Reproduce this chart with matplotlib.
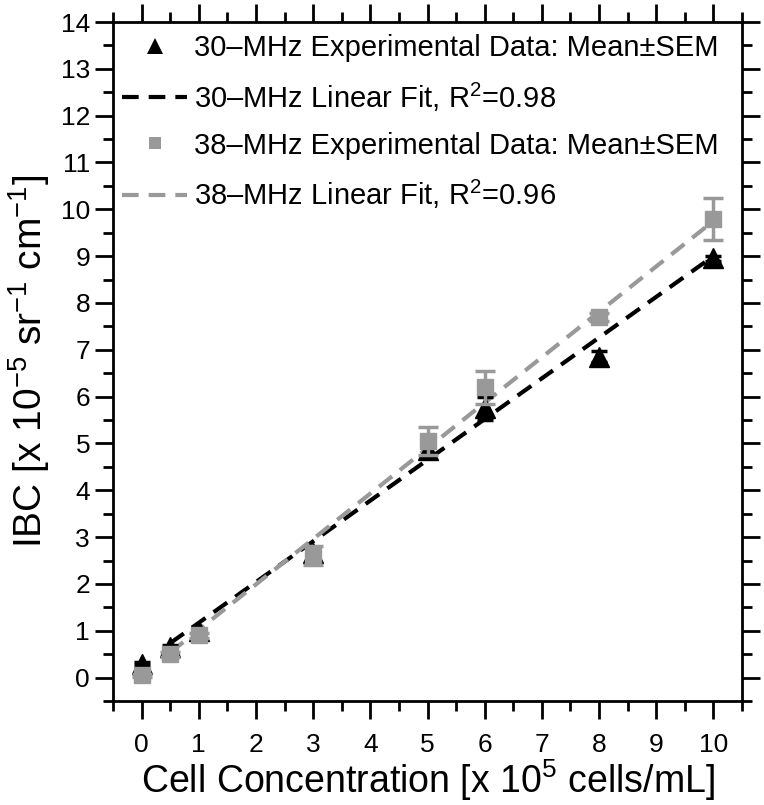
"""
IBC vs cell concentration at 30 and 38 MHz
"""

import numpy as np
from matplotlib import pyplot as plt
from matplotlib.lines import Line2D

# concentration [x 1e5 cells/mL]
conc = [0, 0.5, 1, 3, 5, 6, 8, 10]

# 30 MHz means and SEM
ibc_30 = [0.30, 0.65, 1.00, 2.65, 4.85, 5.75, 6.85, 8.95]
sem_30 = [0.03, 0.04, 0.04, 0.08, 0.15, 0.25, 0.12, 0.05]

# 38 MHz means and SEM
ibc_38 = [0.05, 0.50, 0.90, 2.60, 5.05, 6.20, 7.70, 9.80]
sem_38 = [0.03, 0.05, 0.05, 0.20, 0.30, 0.35, 0.08, 0.45]

# linear fits (slope, intercept) and range of the fitted line
fit_30 = (0.87, 0.30)
fit_38 = (0.97, 0.05)
fit_range = [0.5, 10]

labels = ['30–MHz Experimental Data: Mean±SEM',
          r'30–MHz Linear Fit, R$^{\mathregular{2}}$=0.98',
          '38–MHz Experimental Data: Mean±SEM',
          r'38–MHz Linear Fit, R$^{\mathregular{2}}$=0.96']

if __name__ == '__main__':
    grey = '#999999'
    plt.rcParams['font.family'] = ['Liberation Sans', 'DejaVu Sans']
    plt.rcParams['mathtext.fontset'] = 'custom'
    plt.rcParams['mathtext.rm'] = 'Liberation Sans'
    plt.rcParams['mathtext.it'] = 'Liberation Sans'
    plt.rcParams['mathtext.default'] = 'regular'

    fig = plt.figure(figsize=(7.64, 8.05), dpi=100)
    ax = fig.add_axes([113 / 764, 1 - 701 / 805, 629 / 764, 679 / 805])

    xf = np.array(fit_range)
    dashes = (4, 2.4)
    ax.plot(xf, fit_30[0] * xf + fit_30[1], color='k', lw=3, dashes=dashes, zorder=3)
    ax.plot(xf, fit_38[0] * xf + fit_38[1], color=grey, lw=3, dashes=dashes, zorder=3)

    ax.errorbar(conc, ibc_30, yerr=sem_30, fmt='^', color='k', ms=15, mec='k',
                elinewidth=2.5, capsize=6, capthick=2.5, zorder=4)
    ax.errorbar(conc, ibc_38, yerr=sem_38, fmt='s', color=grey, ms=11, mec=grey,
                elinewidth=2.5, capsize=7, capthick=2.5, zorder=5)

    ax.set_xlim(-0.5, 10.5)
    ax.set_ylim(-0.5, 14)
    ax.set_xticks(range(0, 11))
    ax.set_xticks(np.arange(-0.5, 10.6, 0.5), minor=True)
    ax.set_yticks(range(0, 15))
    ax.set_yticks(np.arange(-0.5, 14.1, 0.5), minor=True)
    ax.tick_params(which='both', direction='out', width=2, top=True, right=True,
                   labelsize=19)
    ax.tick_params(which='major', length=13)
    ax.tick_params(which='minor', length=7)
    ax.tick_params(axis='x', pad=10)
    for sp in ax.spines.values():
        sp.set_linewidth(2)

    ax.set_xlabel(r'Cell Concentration [x 10$^{5}$ cells/mL]', fontsize=27, labelpad=0)
    ax.set_ylabel(r'IBC [x 10$^{-5}$ sr$^{-1}$ cm$^{-1}$]', fontsize=28, labelpad=6)

    handles = [Line2D([], [], ls='none', marker='^', color='k', ms=12, mew=0),
               Line2D([], [], color='k', lw=3, dashes=dashes),
               Line2D([], [], ls='none', marker='s', color=grey, ms=9, mew=0),
               Line2D([], [], color=grey, lw=3, dashes=dashes)]
    ax.legend(handles, labels, loc='upper left', bbox_to_anchor=(0.015, 0.982),
              frameon=False, fontsize=21, handlelength=2.2, handletextpad=0.25,
              labelspacing=0.62, borderpad=0, borderaxespad=0)

    plt.savefig('out.png', dpi=100)
